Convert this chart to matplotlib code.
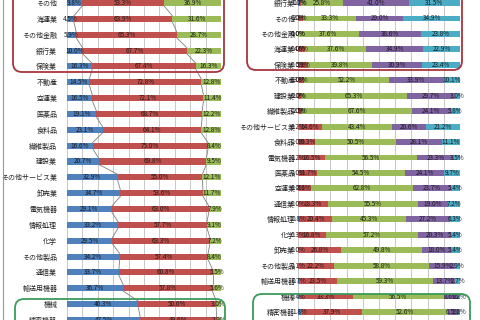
import matplotlib
matplotlib.use('Agg')
import matplotlib.pyplot as plt
from matplotlib.patches import FancyBboxPatch
import numpy as np

plt.rcParams['font.family'] = ['Noto Sans CJK JP', 'DejaVu Sans']

# left chart: 3 segments
left_cats = ['その他', '海運業', 'その他金融', '銀行業', '保険業', '不動産', '空運業', '医薬品',
             '食料品', '繊維製品', '建設業', 'その他サービス業', '卸売業', '電気機器', '情報処理',
             '化学', 'その他製品', '通信業', '輸送用機器', '機械', '精密機器']
left_blue = [9.8, 4.5, 5.9, 10.0, 16.3, 14.5, 16.5, 19.1, 23.1, 16.6, 20.7, 32.9, 34.7, 29.1,
             33.2, 29.5, 34.2, 33.7, 36.7, 46.3, 47.5]
left_red = [53.3, 63.9, 65.3, 67.7, 67.4, 72.8, 72.1, 68.7, 64.1, 75.0, 69.8, 55.0, 53.6, 63.0,
            57.7, 63.3, 57.4, 60.8, 57.8, 50.6, 49.6]
left_green = [36.9, 31.6, 28.7, 22.3, 16.3, 12.8, 11.4, 12.2, 12.8, 8.4, 9.5, 12.1, 11.7, 7.9,
              9.1, 7.2, 8.4, 5.5, 5.6, 3.0, 2.9]

# right chart: 5 segments
right_cats = ['銀行業', 'その他', 'その他金融', '海運業', '保険業', '不動産', '建設業', '繊維製品',
              'その他サービス業', '食料品', '電気機器', '医薬品', '空運業', '通信業', '情報処理',
              '化学', '卸売業', 'その他製品', '輸送用機器', '機械', '精密機器']
right_blue = [1.0, 0.0, 0.0, 0.0, 0.0, 0.0, 0.0, 0.0, 0.2, 0.0, 0.2, 0.0, 0.0, 0.0, 0.8,
              0.3, 0.0, 0.1, 0.7, 0.4, 1.8]
right_red = [0.7, 2.8, 0.0, 4.6, 5.9, 3.8, 2.0, 2.5, 14.6, 10.3, 16.5, 11.7, 8.1, 18.3, 20.4,
             16.8, 26.8, 22.2, 23.5, 33.3, 37.9]
right_green = [25.8, 33.3, 37.6, 37.6, 39.8, 52.2, 65.3, 67.6, 43.4, 50.5, 56.5, 54.5, 62.8,
               55.5, 45.3, 57.2, 49.8, 58.8, 59.3, 56.5, 52.6]
right_purple = [41.0, 29.0, 38.6, 34.9, 30.9, 33.9, 29.7, 24.1, 20.6, 28.1, 23.3, 24.1, 23.7,
                19.0, 27.2, 20.3, 18.0, 15.9, 13.7, 8.6, 6.5]
right_cyan = [31.5, 34.9, 23.8, 22.9, 23.4, 10.1, 3.0, 5.8, 21.2, 11.1, 3.5, 9.7, 5.4, 7.2,
              6.3, 5.4, 5.4, 2.9, 2.7, 1.2, 1.2]

colors = ['#4F81BD', '#C0504D', '#9BBB59', '#8064A2', '#4BACC6']
H = 0.38

fig = plt.figure(figsize=(4.8, 3.2), dpi=100)


def draw(ax, cats, series, step, pad, lines):
    y = np.arange(len(cats))
    left = np.zeros(len(cats))
    edges = []
    for vals, c in zip(series, colors):
        vals = np.array(vals)
        ax.barh(y, vals, left=left, height=H, color=c, zorder=3)
        for yi, l, v in zip(y, left, vals):
            ax.text(l + v / 2, yi, f'{v:.1f}%', ha='center', va='center',
                    fontsize=4.6, color='#1a1a1a', zorder=5)
        left = left + vals
        edges.append(left.copy())
    if lines:
        # series lines between neighbouring bars
        for cum in edges[:-1]:
            for i in range(len(cats) - 1):
                ax.plot([cum[i], cum[i + 1]], [i + H / 2, i + 1 - H / 2],
                        color='#7f7f7f', lw=0.6, zorder=2)
    ax.set_xlim(0, 100)
    ax.set_ylim((320 - 3) / step, -3 / step)
    ax.set_yticks(y)
    ax.set_yticklabels(cats, fontsize=5.0, color='#222222')
    ax.tick_params(axis='y', length=0, pad=pad)
    ax.set_xticks(np.arange(0, 101, 10))
    ax.tick_params(axis='x', length=0, labelbottom=False)
    ax.grid(axis='x', color='#BFBFBF', lw=0.6, zorder=0)
    for s in ax.spines.values():
        s.set_visible(False)


ax1 = fig.add_axes([67 / 480, 0, 154 / 480, 1])
draw(ax1, left_cats, [left_blue, left_red, left_green], 15.9, 7, True)

ax2 = fig.add_axes([298 / 480, 0, 162 / 480, 1])
draw(ax2, right_cats, [right_blue, right_red, right_green, right_purple, right_cyan],
     15.45, 2, False)

# overlay for highlight boxes (pixel coordinates)
ov = fig.add_axes([0, 0, 1, 1])
ov.set_xlim(0, 480)
ov.set_ylim(320, 0)
ov.axis('off')
ov.patch.set_alpha(0)
boxes = [(13, -15, 211, 87, '#A8343F'), (15, 299, 210, 40, '#3C9A5B'),
         (247, -15, 215, 85, '#A8343F'), (253, 294, 217, 45, '#3C9A5B')]
for x, y0, w, h, c in boxes:
    ov.add_patch(FancyBboxPatch((x, y0), w, h, boxstyle='round,pad=0,rounding_size=9',
                                fill=False, edgecolor=c, lw=1.3, zorder=10))
ov.plot([2.5, 2.5], [0, 320], color='#9a9a9a', lw=0.8)

fig.savefig('out.png', dpi=100)
